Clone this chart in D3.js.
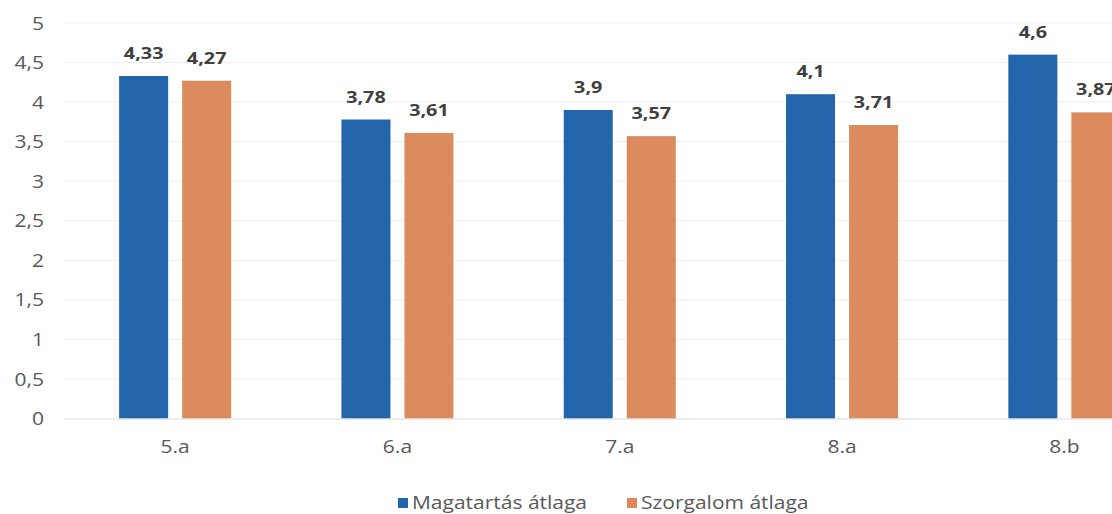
<!DOCTYPE html>
<html>
<head>
<meta charset="utf-8">
<script src="https://cdn.jsdelivr.net/npm/d3@7"></script>
<style>
  html, body { margin: 0; padding: 0; background: #ffffff; }
  svg { display: block; }
  text { font-family: "Open Sans", sans-serif; }
</style>
</head>
<body>
<svg id="chart" width="1112" height="514"></svg>
<script>
const categories = ["5.a", "6.a", "7.a", "8.a", "8.b"];
const seriesNames = ["Magatartás átlaga", "Szorgalom átlaga"];
const magatartas = [4.33, 3.78, 3.9, 4.1, 4.6];
const szorgalom = [4.27, 3.61, 3.57, 3.71, 3.87];
const yTicks = [0, 0.5, 1, 1.5, 2, 2.5, 3, 3.5, 4, 4.5, 5];
const colors = ["#2265ab", "#dc8b5e"];

const svg = d3.select("#chart");
const SX = 1.2; // horizontal stretch of the scanned lettering

const x = d3.scaleBand().domain(categories).range([64, 1175.5]).padding(0);
const xs = d3.scaleBand().domain(seriesNames).range([0, x.bandwidth()])
  .paddingInner(0.222).paddingOuter(0.875);
const y = d3.scaleLinear().domain([0, 5]).range([418.5, 23]);
const fmt = v => String(v).replace(".", ",");

function stext(g, px, py, str, anchor) {
  return g.append("text")
    .attr("transform", `translate(${px},${py}) scale(${SX},1)`)
    .attr("text-anchor", anchor)
    .text(str);
}

// gridlines
const grid = svg.append("g");
grid.selectAll("line").data(yTicks.filter(t => t > 0)).join("line")
  .attr("x1", 64).attr("x2", 1175)
  .attr("y1", d => y(d)).attr("y2", d => y(d))
  .attr("stroke", "#eeeeee").attr("stroke-width", 1);

// y axis labels
const yAxis = svg.append("g")
  .attr("transform", "translate(44,0)")
  .call(d3.axisLeft(y).tickValues(yTicks).tickFormat(fmt).tickSize(0).tickPadding(0));
yAxis.select(".domain").remove();
yAxis.selectAll(".tick text")
  .attr("font-family", "Open Sans, sans-serif")
  .attr("font-size", 17.5)
  .attr("fill", "#595959")
  .attr("transform", `scale(${SX},1)`)
  .attr("x", 0).attr("dy", "0.35em");

// bars
const data = categories.map((c, i) => ({ cat: c, vals: [magatartas[i], szorgalom[i]] }));
const groups = svg.append("g").selectAll("g").data(data).join("g")
  .attr("transform", d => `translate(${x(d.cat)},0)`);
groups.selectAll("rect").data(d => d.vals.map((v, j) => ({ v, s: seriesNames[j], j })))
  .join("rect")
  .attr("x", d => xs(d.s))
  .attr("width", xs.bandwidth())
  .attr("y", d => y(d.v))
  .attr("height", d => y(0) - y(d.v))
  .attr("fill", d => colors[d.j]);

// value labels
groups.each(function (d) {
  const g = d3.select(this);
  d.vals.forEach((v, j) => {
    stext(g, xs(seriesNames[j]) + xs.bandwidth() / 2, y(v) - 17, fmt(v), "middle")
      .attr("font-size", 16.5).attr("font-weight", 700).attr("fill", "#404040");
  });
});

// x axis line
svg.append("line").attr("x1", 64).attr("x2", 1175)
  .attr("y1", y(0) + 0.5).attr("y2", y(0) + 0.5)
  .attr("stroke", "#d9d9d9").attr("stroke-width", 1);

// x axis labels
const xAxis = svg.append("g").attr("transform", `translate(0,${y(0)})`)
  .call(d3.axisBottom(x).tickSize(0).tickPadding(0));
xAxis.select(".domain").remove();
xAxis.selectAll(".tick text")
  .attr("font-family", "Open Sans, sans-serif")
  .attr("font-size", 17.5).attr("fill", "#595959")
  .attr("transform", `scale(${SX},1)`)
  .attr("y", 0).attr("dy", "2.0em")
  .each(function () {
    // compensate scaling of x position (text is centred at tick origin)
  });

// legend
const legend = svg.append("g");
const legendX = [398, 627];
seriesNames.forEach((name, j) => {
  legend.append("rect").attr("x", legendX[j]).attr("y", 498)
    .attr("width", 10).attr("height", 10).attr("fill", colors[j]);
  stext(legend, legendX[j] + 14, 503, name, "start")
    .attr("font-size", 17.5).attr("fill", "#595959").attr("dy", "0.35em");
});
</script>
</body>
</html>
